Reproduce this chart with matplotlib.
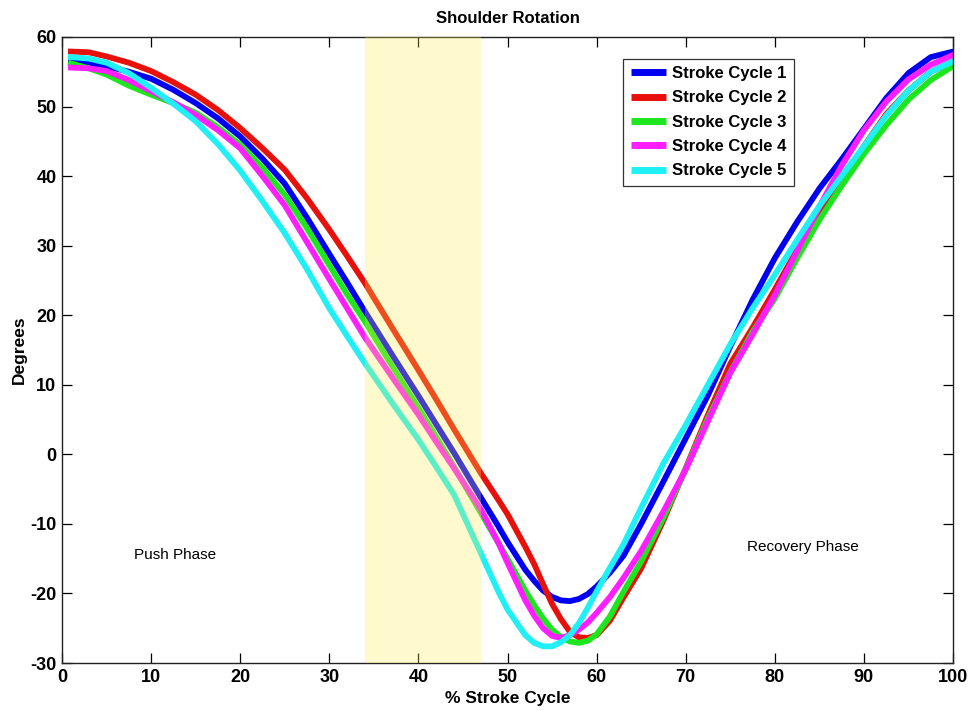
import matplotlib
matplotlib.use("Agg")
import matplotlib.pyplot as plt

plt.rcParams['font.family'] = ['Liberation Sans', 'DejaVu Sans']
plt.rcParams['axes.unicode_minus'] = False

# ---- data ----
pct = [1, 3, 5, 7.5, 10, 12.5, 15, 17.5, 20, 22.5, 25, 27.5, 30, 32, 34, 37, 40, 42, 44, 47,
       49, 50, 52, 53, 54, 55, 56, 57, 58, 59, 60, 61.5, 63, 65, 67.5, 70, 72.5, 75, 77.5, 80,
       82.5, 85, 87.5, 90, 92.5, 95, 97.5, 100]
cycle1 = [56.4, 56.3, 55.8, 55.0, 54.0, 52.4, 50.5, 48.3, 45.7, 42.5, 38.9, 34.0, 28.8, 24.7, 20.5, 14.4, 8.4, 4.3, 0.2, -6.2,
          -10.4, -12.6, -16.6, -18.2, -19.6, -20.5, -21.0, -21.1, -20.8, -20.1, -19.0, -17.0, -14.6, -10.0, -3.9, 2.3, 8.5, 15.5, 22.2, 28.2,
          33.4, 38.2, 42.4, 46.8, 51.2, 54.8, 57.1, 57.9]
cycle2 = [57.9, 57.8, 57.2, 56.3, 55.1, 53.5, 51.7, 49.5, 46.9, 44.0, 40.9, 36.8, 32.3, 28.5, 24.6, 18.3, 12.1, 7.9, 3.6, -2.7,
          -6.6, -8.6, -13.3, -15.8, -18.7, -21.5, -23.7, -25.5, -26.3, -26.4, -26.0, -23.9, -20.6, -16.4, -9.5, -2.0, 5.7, 13.0, 18.2, 23.7,
          29.4, 34.6, 39.4, 44.3, 48.9, 52.3, 55.0, 56.5]
cycle3 = [56.2, 55.5, 54.6, 53.0, 51.7, 50.5, 49.1, 47.0, 44.5, 41.2, 37.3, 32.5, 27.2, 23.0, 19.1, 12.8, 6.7, 2.5, -1.8, -8.4,
          -12.8, -15.0, -19.6, -21.7, -23.6, -25.2, -26.3, -26.9, -27.1, -26.8, -25.9, -23.3, -19.8, -15.4, -9.1, -2.1, 5.2, 11.8, 17.6, 22.4,
          28.2, 33.7, 38.6, 43.2, 47.3, 51.0, 53.8, 55.8]
cycle4 = [55.6, 55.5, 55.1, 53.8, 52.2, 50.6, 48.8, 46.6, 44.0, 40.0, 35.8, 30.5, 25.2, 21.0, 16.8, 11.2, 5.7, 1.8, -2.0, -7.9,
          -12.8, -15.6, -21.0, -23.2, -25.0, -26.1, -26.4, -26.0, -25.2, -24.2, -22.8, -20.5, -17.8, -13.9, -8.2, -2.2, 4.8, 11.7, 17.2, 22.9,
          29.2, 35.6, 41.5, 46.6, 50.7, 53.9, 56.0, 57.4]
cycle5 = [57.1, 56.9, 56.3, 54.8, 52.7, 50.4, 47.9, 44.6, 40.8, 36.4, 31.8, 26.6, 21.0, 17.0, 13.1, 7.5, 2.1, -1.8, -5.8, -14.2,
          -19.8, -22.3, -26.0, -27.1, -27.6, -27.6, -27.0, -26.0, -24.3, -22.1, -19.7, -16.3, -13.0, -7.7, -1.3, 4.2, 10.0, 15.8, 21.0, 25.8,
          30.8, 35.7, 40.0, 44.3, 48.7, 52.3, 55.0, 56.5]
series = [cycle1, cycle2, cycle3, cycle4, cycle5]
labels = ['Stroke Cycle 1', 'Stroke Cycle 2', 'Stroke Cycle 3', 'Stroke Cycle 4', 'Stroke Cycle 5']
colors = ['#0000f0', '#e8100a', '#1ee61e', '#ff1eff', '#1ef0f5']
shade_span = (34, 47)
xticks = [0, 10, 20, 30, 40, 50, 60, 70, 80, 90, 100]
yticks = [-30, -20, -10, 0, 10, 20, 30, 40, 50, 60]

fig = plt.figure(figsize=(9.69, 7.11), dpi=100)
ax = fig.add_axes([0.064, 0.0675, 0.9195, 0.8805])

for ys, lab, c in zip(series, labels, colors):
    ax.plot(pct, ys, color=c, lw=4.2, label=lab, zorder=2, solid_joinstyle='round')

ax.axvspan(shade_span[0], shade_span[1], color='#ffec50', alpha=0.28, lw=0, zorder=3)

ax.set_xlim(0, 100)
ax.set_ylim(-30, 60)
ax.set_xticks(xticks)
ax.set_yticks(yticks)
ax.tick_params(direction='in', length=7, width=0.9, top=True, right=True,
               labelsize=13, pad=4)
for lab in ax.get_xticklabels() + ax.get_yticklabels():
    lab.set_fontweight('bold')
for s in ax.spines.values():
    s.set_linewidth(1.0)
    s.set_color('#222222')

ax.set_title('Shoulder Rotation', fontsize=12, fontweight='bold', pad=10)
ax.set_xlabel('% Stroke Cycle', fontsize=12.5, fontweight='bold', labelpad=4)
ax.set_ylabel('Degrees', fontsize=12.5, fontweight='bold')
ax.yaxis.set_label_coords(-0.04, 0.5)

ax.text(12.7, -14.5, 'Push Phase', fontsize=11, ha='center', va='center', zorder=4)
ax.text(83.2, -13.3, 'Recovery Phase', fontsize=11, ha='center', va='center', zorder=4)

leg = ax.legend(loc='upper left', bbox_to_anchor=(0.63, 0.965), borderaxespad=0,
                fancybox=False, framealpha=1, edgecolor='#333333',
                prop={'weight': 'bold', 'size': 12}, handlelength=2.1,
                handletextpad=0.4, labelspacing=0.56, borderpad=0.43)
leg.get_frame().set_linewidth(0.9)
leg.set_zorder(5)
for h in leg.get_lines():
    h.set_linewidth(5)
    h.set_solid_capstyle('butt')

fig.savefig('out.png', dpi=100)
